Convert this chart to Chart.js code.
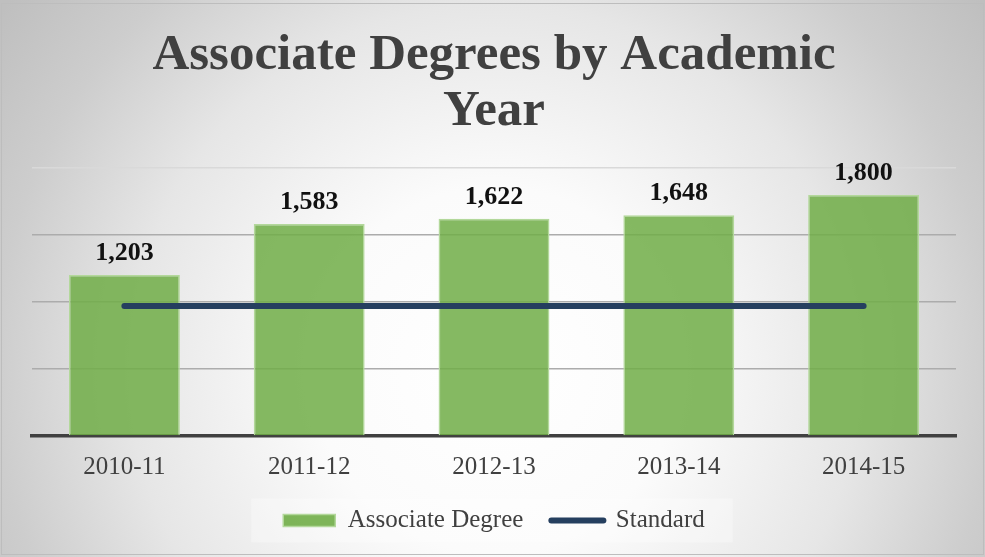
<!DOCTYPE html>
<html>
<head>
<meta charset="utf-8">
<script src="https://cdn.jsdelivr.net/npm/chart.js@4.4.1/dist/chart.umd.min.js"></script>
<style>
  body { margin: 0; background: #ffffff; }
  #wrap { width: 985px; height: 557px; }
</style>
</head>
<body>
<div id="wrap"><canvas id="degrees-chart" width="985" height="557"></canvas></div>
<script>
// Chart data
const categories = ["2010-11", "2011-12", "2012-13", "2013-14", "2014-15"];
const degrees = [1203, 1583, 1622, 1648, 1800];
const standard = [970, 970, 970, 970, 970];
const yTicks = [0, 500, 1000, 1500, 2000];

const serif = "'Liberation Serif', 'DejaVu Serif', serif";
const textGrey = "#404040";

// Radial grey background + thin frame
const backgroundPlugin = {
  id: "background",
  beforeDraw(chart) {
    const ctx = chart.ctx;
    const w = chart.width;
    const h = chart.height;
    ctx.save();
    const g = ctx.createRadialGradient(495, 370, 0, 495, 370, 610);
    g.addColorStop(0, "#ffffff");
    g.addColorStop(0.3, "#fbfbfb");
    g.addColorStop(0.6, "#e6e6e6");
    g.addColorStop(0.82, "#cdcdcd");
    g.addColorStop(1, "#bfbfbf");
    ctx.fillStyle = g;
    ctx.fillRect(0, 0, w, h);
    ctx.strokeStyle = "#bdbdbd";
    ctx.lineWidth = 1;
    ctx.strokeRect(1.5, 3.5, w - 3, h - 6);

    // light box behind the legend
    const boxes = chart.legend && chart.legend.legendHitBoxes;
    if (boxes && boxes.length) {
      const left = Math.min(...boxes.map((b) => b.left));
      const right = Math.max(...boxes.map((b) => b.left + b.width));
      const mid = boxes[0].top + boxes[0].height / 2;
      ctx.fillStyle = "rgba(255,255,255,0.3)";
      ctx.fillRect(left - 32, mid - 22, right - left + 60, 44);
    }
    ctx.restore();
  },
};

// Value labels above the bars
const valueLabels = {
  id: "valueLabels",
  afterDatasetsDraw(chart) {
    const ctx = chart.ctx;
    const meta = chart.getDatasetMeta(1);
    ctx.save();
    ctx.font = "bold 26px " + serif;
    ctx.fillStyle = "#111111";
    ctx.textAlign = "center";
    ctx.textBaseline = "middle";
    meta.data.forEach((bar, i) => {
      ctx.fillText(degrees[i].toLocaleString("en-US"), bar.x, bar.y - 22);
    });
    ctx.restore();
  },
};

const chart = new Chart(document.getElementById("degrees-chart"), {
  data: {
    labels: categories,
    datasets: [
      {
        type: "line",
        label: "Standard",
        data: standard,
        borderColor: "#253f5f",
        backgroundColor: "#253f5f",
        borderWidth: 6,
        borderCapStyle: "round",
        pointRadius: 0,
        pointHoverRadius: 0,
        fill: false,
      },
      {
        type: "bar",
        label: "Associate Degree",
        data: degrees,
        backgroundColor: "rgba(112,173,71,0.85)",
        borderColor: "#b3d89b",
        borderWidth: 1.5,
        barPercentage: 0.6,
        categoryPercentage: 1,
      },
    ],
  },
  options: {
    responsive: false,
    animation: false,
    layout: { padding: { left: 32, right: 29, top: 0, bottom: 14 } },
    plugins: {
      title: {
        display: true,
        text: ["Associate Degrees by Academic", "Year"],
        color: textGrey,
        font: { family: serif, size: 51, weight: "bold", lineHeight: 1.1 },
        padding: { top: 28, bottom: 28 },
      },
      legend: {
        position: "bottom",
        labels: {
          color: textGrey,
          font: { family: serif, size: 25 },
          usePointStyle: true,
          pointStyleWidth: 52,
          boxHeight: 12,
          padding: 28,
          sort: (a, b) => b.datasetIndex - a.datasetIndex,
          generateLabels(chart) {
            const items = Chart.defaults.plugins.legend.labels.generateLabels(chart);
            items.forEach((item) => {
              if (item.datasetIndex === 0) {
                item.pointStyle = "line";
                item.lineWidth = 6;
                item.lineCap = "round";
                item.strokeStyle = "#253f5f";
              } else {
                item.pointStyle = "rect";
                item.lineWidth = 1.5;
                item.strokeStyle = "#b3d89b";
                item.fillStyle = "rgba(112,173,71,0.9)";
              }
            });
            return items;
          },
        },
      },
      tooltip: { enabled: false },
    },
    scales: {
      x: {
        grid: { display: false, drawTicks: false },
        border: { display: true, color: "#404040", width: 3.5 },
        ticks: {
          color: textGrey,
          font: { family: serif, size: 25 },
          padding: 16,
        },
        afterFit(scale) {
          scale.height -= 18;
        },
      },
      y: {
        min: 0,
        max: 2000,
        afterBuildTicks(scale) {
          scale.ticks = yTicks.map((v) => ({ value: v }));
        },
        grid: {
          drawTicks: false,
          color: (c) => (c.tick && c.tick.value === 2000 ? "#d9d9d9" : "#acacac"),
          lineWidth: 1.5,
        },
        border: { display: false },
        ticks: { display: false },
      },
    },
  },
  plugins: [backgroundPlugin, valueLabels],
});
</script>
</body>
</html>
